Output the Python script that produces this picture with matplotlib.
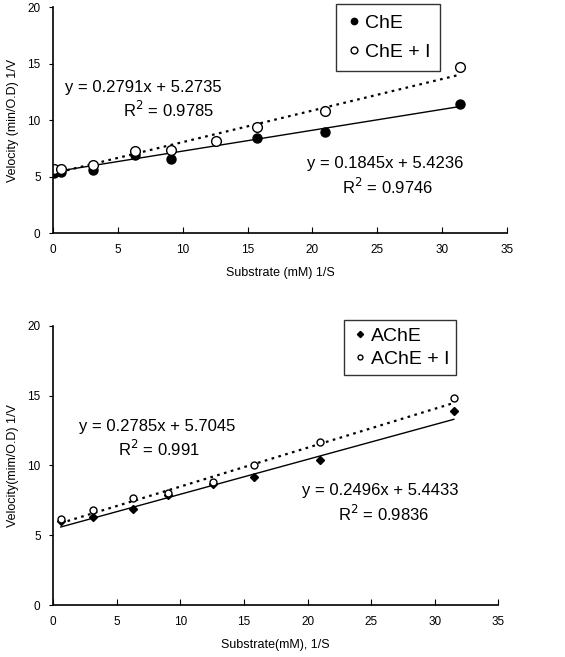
import numpy as np
import matplotlib
matplotlib.use("Agg")
import matplotlib.pyplot as plt

plt.rcParams['font.family'] = ['Liberation Sans', 'DejaVu Sans']

# --- top panel: ChE ---
che_x = [0.1, 0.6, 3.1, 6.3, 9.1, 15.7, 21.0, 31.4]
che_y = [5.3, 5.4, 5.6, 6.9, 6.6, 8.4, 9.0, 11.4]
chei_x = [0.1, 0.6, 3.1, 6.3, 9.1, 12.6, 15.7, 21.0, 31.4]
chei_y = [5.7, 5.7, 6.0, 7.3, 7.4, 8.2, 9.4, 10.8, 14.7]
che_fit = (0.1845, 5.4236, 0.9746)
chei_fit = (0.2791, 5.2735, 0.9785)

# --- bottom panel: AChE ---
ache_x = [0.6, 3.1, 6.3, 9.0, 12.6, 15.8, 21.0, 31.5]
ache_y = [6.0, 6.3, 6.9, 7.9, 8.7, 9.2, 10.4, 13.9]
achei_x = [0.6, 3.1, 6.3, 9.0, 12.6, 15.8, 21.0, 31.5]
achei_y = [6.2, 6.8, 7.7, 8.0, 8.8, 10.0, 11.7, 14.8]
ache_fit = (0.2496, 5.4433, 0.9836)
achei_fit = (0.2785, 5.7045, 0.991)

fig = plt.figure(figsize=(5.65, 6.57), dpi=100)
ax1 = fig.add_axes([0.094, 0.645, 0.803, 0.344])
ax2 = fig.add_axes([0.094, 0.079, 0.788, 0.425])


def style(ax, xlabel, ylabel):
    ax.set_xlim(0, 35)
    ax.set_ylim(0, 20)
    ax.set_xticks(range(0, 36, 5))
    ax.set_yticks(range(0, 21, 5))
    for s in ['top', 'right']:
        ax.spines[s].set_visible(False)
    for s in ['left', 'bottom']:
        ax.spines[s].set_linewidth(1.2)
    ax.tick_params(axis='x', direction='in', length=4, labelsize=8.5, pad=8)
    ax.tick_params(axis='y', direction='out', length=3, labelsize=8.5, pad=6)
    ax.set_xlabel(xlabel, fontsize=9, labelpad=8)
    ax.set_ylabel(ylabel, fontsize=9, labelpad=6)


def fit_text(m, b, r2):
    return f"y = {m:.4f}x + {b:.4f}", f"R$^2$ = {r2}"


# top
xs = np.array([0.0, max(che_x)])
ax1.plot(xs, che_fit[0] * xs + che_fit[1], color='black', lw=1.0)
ax1.plot(xs, chei_fit[0] * xs + chei_fit[1], color='black', lw=1.6, ls=(0, (1.2, 2)))
ax1.plot(che_x, che_y, 'o', color='black', ms=6.5, label='ChE')
ax1.plot(chei_x, chei_y, 'o', mfc='white', mec='black', mew=1.0, ms=7, label='ChE + I')
style(ax1, 'Substrate (mM) 1/S', 'Velocity (min/O.D) 1/V')
t1, r1 = fit_text(*chei_fit)
ax1.text(0.9, 12.9, t1, fontsize=12, va='center')
ax1.text(5.4, 10.9, r1, fontsize=12, va='center')
t2, r2 = fit_text(*che_fit)
ax1.text(19.6, 6.2, t2, fontsize=12, va='center')
ax1.text(22.3, 4.1, r2, fontsize=12, va='center')
leg1 = ax1.legend(loc='upper left', bbox_to_anchor=(0.623, 1.013), fontsize=14,
                  frameon=True, fancybox=False, edgecolor='black',
                  handletextpad=0.1, handlelength=0.9, borderpad=0.5,
                  labelspacing=0.6, markerscale=0.7, borderaxespad=0)
leg1.get_frame().set_linewidth(1.0)

# bottom
xs2 = np.array([min(ache_x), max(ache_x)])
ax2.plot(xs2, ache_fit[0] * xs2 + ache_fit[1], color='black', lw=1.0)
ax2.plot(xs2, achei_fit[0] * xs2 + achei_fit[1], color='black', lw=1.6, ls=(0, (1.2, 2)))
ax2.plot(ache_x, ache_y, 'D', color='black', ms=4.5, label='AChE')
ax2.plot(achei_x, achei_y, 'o', mfc='white', mec='black', mew=1.0, ms=5, label='AChE + I')
style(ax2, 'Substrate(mM), 1/S', 'Velocity(mim/O.D) 1/V')
t3, r3 = fit_text(*achei_fit)
ax2.text(2.0, 12.8, t3, fontsize=12, va='center')
ax2.text(5.1, 11.2, r3, fontsize=12, va='center')
t4, r4 = fit_text(*ache_fit)
ax2.text(19.6, 8.2, t4, fontsize=12, va='center')
ax2.text(22.4, 6.5, r4, fontsize=12, va='center')
leg2 = ax2.legend(loc='upper left', bbox_to_anchor=(0.654, 1.02), fontsize=14,
                  frameon=True, fancybox=False, edgecolor='black',
                  handletextpad=0.1, handlelength=0.9, borderpad=0.35,
                  labelspacing=0.3, markerscale=0.7, borderaxespad=0)
leg2.get_frame().set_linewidth(1.0)

fig.savefig('out.png', dpi=100)
